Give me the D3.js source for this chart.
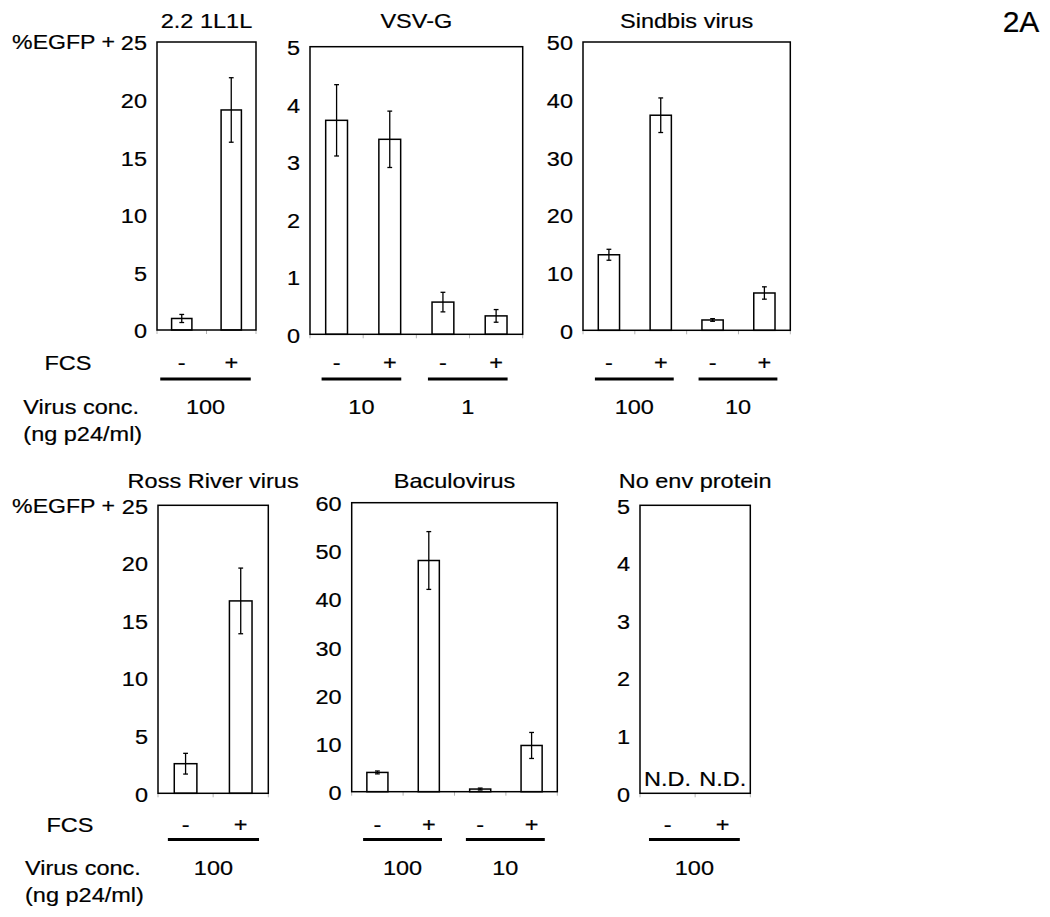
<!DOCTYPE html>
<html><head><meta charset="utf-8">
<script src="https://cdn.jsdelivr.net/npm/d3@7"></script>
<style>
body{margin:0;background:#fff}
text{font-family:"Liberation Sans",Arial,Helvetica,sans-serif;font-size:21px;fill:#000;stroke:#000;stroke-width:0.2px}
</style>
</head><body>
<svg id="c" width="1050" height="917"></svg>
<script>
// ---------- data ----------
const panelTitles = ["2.2 1L1L", "VSV-G", "Sindbis virus", "Ross River virus", "Baculovirus", "No env protein"];
const fcs2 = ["-", "+"];
const fcs4 = ["-", "+", "-", "+"];
const vals1L1L = [1.0, 19.1];          const errs1L1L = [0.35, 2.8];
const valsVSV  = [3.72, 3.39, 0.56, 0.32]; const errsVSV = [0.62, 0.49, 0.17, 0.11];
const valsSin  = [13.1, 37.3, 1.79, 6.47]; const errsSin = [0.95, 3.0, 0.23, 1.07];
const valsRR   = [2.57, 16.7];         const errsRR = [0.9, 2.85];
const valsBac  = [4.0, 48.0, 0.55, 9.6];   const errsBac = [0.3, 6.0, 0.2, 2.7];
const valsNone = [null, null];         const errsNone = [null, null];
const ndLabel = "N.D.";
const ticks25 = [0, 5, 10, 15, 20, 25];
const ticks5  = [0, 1, 2, 3, 4, 5];
const ticks50 = [0, 10, 20, 30, 40, 50];
const ticks60 = [0, 10, 20, 30, 40, 50, 60];
const conc1L1L = ["100"], concVSV = ["10", "1"], concSin = ["100", "10"];
const concRR = ["100"], concBac = ["100", "10"], concNone = ["100"];
const yLabel = "%EGFP +";
const fcsLabel = "FCS";
const concLabel1 = "Virus conc.";
const concLabel2 = "(ng p24/ml)";
const figLabel = "2A";

const panels = [
  {title: panelTitles[0], cats: fcs2, vals: vals1L1L, errs: errs1L1L, ticks: ticks25, conc: conc1L1L},
  {title: panelTitles[1], cats: fcs4, vals: valsVSV,  errs: errsVSV,  ticks: ticks5,  conc: concVSV},
  {title: panelTitles[2], cats: fcs4, vals: valsSin,  errs: errsSin,  ticks: ticks50, conc: concSin},
  {title: panelTitles[3], cats: fcs2, vals: valsRR,   errs: errsRR,   ticks: ticks25, conc: concRR},
  {title: panelTitles[4], cats: fcs4, vals: valsBac,  errs: errsBac,  ticks: ticks60, conc: concBac},
  {title: panelTitles[5], cats: fcs2, vals: valsNone, errs: errsNone, ticks: ticks5,  conc: concNone}
];

// ---------- layout ----------
const SX = 1.12;
const layout = [
  {L:157,   R:256,   T:42,    B:330,   pl:21.5, pr:19.5, row:0},
  {L:310,   R:522.7, T:46.7,  B:334.3, pl:15,   pr:11.5, row:0},
  {L:583,   R:790.3, T:42,    B:330.3, pl:14,   pr:13,   row:0},
  {L:158,   R:268.3, T:505.3, B:793.3, pl:17.7, pr:18.3, row:1},
  {L:351.7, R:557.3, T:502.7, B:791.7, pl:14.3, pr:13.2, row:1},
  {L:640,   R:750.3, T:505.3, B:793.3, pl:18.6, pr:17.1, row:1}
];
const rows = [
  {title:20.7, fcs:363,   line:379,   conc:406.8, ng:433.5, egfp:42,  left:23.3, fcsX:68},
  {title:480.8, fcs:824.2, line:839.5, conc:867.5, ng:894.5, egfp:506, left:25,   fcsX:70}
];

const svg = d3.select("#c");
svg.append("rect").attr("width",1050).attr("height",917).attr("fill","#fff");

function txt(x, y, s, anchor, sx) {
  return svg.append("text")
    .attr("transform", `translate(${x},${y}) scale(${sx === undefined ? SX : sx},1)`)
    .attr("text-anchor", anchor)
    .attr("dy", "0.35em")
    .text(s);
}

panels.forEach((p, i) => {
  const lo = layout[i], rw = rows[lo.row];
  const n = p.cats.length;
  const x = d3.scaleBand().domain(d3.range(n)).range([lo.L, lo.R]).paddingInner(0.59).paddingOuter(0.295);
  const y = d3.scaleLinear().domain([0, d3.max(p.ticks)]).range([lo.B, lo.T]);
  const g = svg.append("g");
  const cx = k => x(k) + x.bandwidth() / 2;

  // boundary ticks below the axis
  for (let k = 0; k <= n; k++) {
    const xx = x.range()[0] + k * x.step();
    g.append("line").attr("x1", xx).attr("x2", xx).attr("y1", lo.B).attr("y2", lo.B + 4)
      .attr("stroke", "#b4b4b4").attr("stroke-width", 1);
  }

  // bars
  p.vals.forEach((v, k) => {
    if (v == null) {
      txt(cx(k), lo.B - 14.5, ndLabel, "middle");
      return;
    }
    g.append("rect").attr("x", x(k)).attr("y", y(v)).attr("width", x.bandwidth()).attr("height", lo.B - y(v))
      .attr("fill", "#fff").attr("stroke", "#000").attr("stroke-width", 1.5);
    const e = p.errs[k];
    const c = cx(k);
    g.append("line").attr("x1", c).attr("x2", c).attr("y1", y(v - e)).attr("y2", y(v + e))
      .attr("stroke", "#000").attr("stroke-width", 1.3);
    [v - e, v + e].forEach(t => {
      g.append("line").attr("x1", c - 2.4).attr("x2", c + 2.4).attr("y1", y(t)).attr("y2", y(t))
        .attr("stroke", "#000").attr("stroke-width", 1.3);
    });
  });

  // frame
  g.append("rect").attr("x", lo.L).attr("y", lo.T).attr("width", lo.R - lo.L).attr("height", lo.B - lo.T)
    .attr("fill", "none").attr("stroke", "#000").attr("stroke-width", 1.5);

  // y axis labels
  const ax = g.append("g").attr("transform", `translate(${lo.L},0)`)
    .call(d3.axisLeft(y).tickValues(p.ticks).tickSize(0).tickPadding(10).tickFormat(d3.format("d")));
  ax.select(".domain").remove();
  ax.selectAll("text").attr("x", 0).attr("dy", "0.35em")
    .attr("transform", `translate(-10,0.5) scale(${SX},1)`)
    .style("font-family", '"Liberation Sans",Arial,sans-serif').style("font-size", "21px").attr("fill", "#000");

  // title
  txt((lo.L + lo.R) / 2, rw.title, p.title, "middle");

  // FCS labels
  p.cats.forEach((c, k) => txt(cx(k), rw.fcs, c, "middle"));

  // concentration groups
  p.conc.forEach((c, j) => {
    const x1 = cx(2 * j) - lo.pl, x2 = cx(2 * j + 1) + lo.pr;
    g.append("line").attr("x1", x1).attr("x2", x2).attr("y1", rw.line).attr("y2", rw.line)
      .attr("stroke", "#000").attr("stroke-width", 3);
    txt((x1 + x2) / 2, rw.conc, c, "middle");
  });
});

// row labels
rows.forEach(rw => {
  txt(115, rw.egfp, yLabel, "end", 1.1);
  txt(rw.fcsX, rw.fcs, fcsLabel, "middle");
  txt(rw.left, rw.conc, concLabel1, "start");
  txt(rw.left, rw.ng, concLabel2, "start");
});

txt(1021, 21, figLabel, "middle", 1).style("font-size", "30px");
</script>
</body></html>
